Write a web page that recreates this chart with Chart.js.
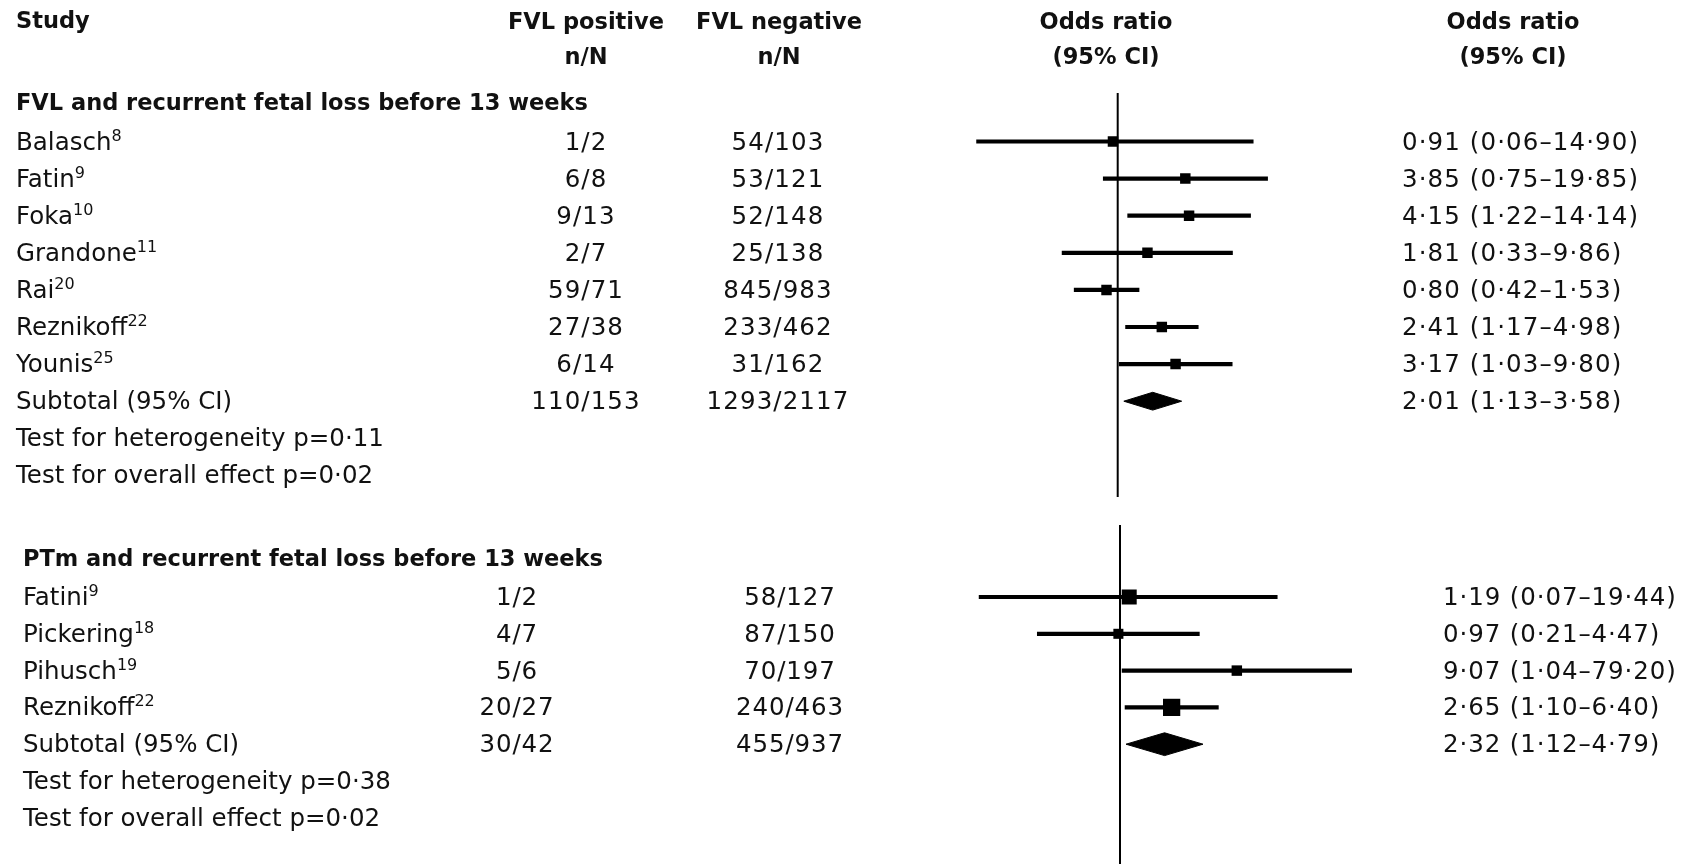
<!DOCTYPE html>
<html>
<head>
<meta charset="utf-8">
<script src="https://cdn.jsdelivr.net/npm/chart.js@4.4.1/dist/chart.umd.min.js"></script>
<style>
  html, body { margin: 0; padding: 0; background: #fff; }
  body { width: 1681px; height: 864px; position: relative; overflow: hidden;
         font-family: "DejaVu Sans", sans-serif; color: #111; }
  canvas { position: absolute; left: 0; }
  .t { position: absolute; white-space: nowrap; font-size: 24.5px; line-height: 28px; transform: translateY(-50%); }
  .b { font-weight: bold; font-size: 22.5px; }
  .c { transform: translate(-50%, -50%); text-align: center; }
  .n { letter-spacing: 1.1px; }
  .n2 { letter-spacing: 0.9px; }
  sup { font-size: 16px; vertical-align: 9px; line-height: 0; letter-spacing: 0; }
</style>
</head>
<body>
<canvas id="topPanel" width="1681" height="500" style="top:0"></canvas>
<canvas id="bottomPanel" width="1681" height="364" style="top:500px"></canvas>
<script>
// FVL and recurrent fetal loss before 13 weeks
const fvlStudies = ["Balasch", "Fatin", "Foka", "Grandone", "Rai", "Reznikoff", "Younis"];
const fvlRefs = [8, 9, 10, 11, 20, 22, 25];
const fvlPositive = ["1/2", "6/8", "9/13", "2/7", "59/71", "27/38", "6/14"];
const fvlNegative = ["54/103", "53/121", "52/148", "25/138", "845/983", "233/462", "31/162"];
const fvlOR = [0.91, 3.85, 4.15, 1.81, 0.80, 2.41, 3.17];
const fvlLow = [0.06, 0.75, 1.22, 0.33, 0.42, 1.17, 1.03];
const fvlHigh = [14.90, 19.85, 14.14, 9.86, 1.53, 4.98, 9.80];
const fvlTotal = [2.01, 1.13, 3.58];          // OR, low, high
const fvlTotalCounts = ["110/153", "1293/2117"];
const fvlTests = ["0·11", "0·02"];            // heterogeneity, overall effect

// PTm and recurrent fetal loss before 13 weeks
const ptmStudies = ["Fatini", "Pickering", "Pihusch", "Reznikoff"];
const ptmRefs = [9, 18, 19, 22];
const ptmPositive = ["1/2", "4/7", "5/6", "20/27"];
const ptmNegative = ["58/127", "87/150", "70/197", "240/463"];
const ptmOR = [1.19, 0.97, 9.07, 2.65];
const ptmLow = [0.07, 0.21, 1.04, 1.10];
const ptmHigh = [19.44, 4.47, 79.20, 6.40];
const ptmTotal = [2.32, 1.12, 4.79];
const ptmTotalCounts = ["30/42", "455/937"];
const ptmTests = ["0·38", "0·02"];

const W = 1681;

function fmt(v) { return v.toFixed(2).replace(".", "\u00b7"); }
function orText(or, lo, hi) { return fmt(or) + " (" + fmt(lo) + "\u2013" + fmt(hi) + ")"; }

function addText(html, x, y, cls) {
  const d = document.createElement("div");
  d.className = "t " + (cls || "");
  d.innerHTML = html;
  d.style.left = x + "px";
  d.style.top = y + "px";
  document.body.appendChild(d);
}

// panel: canvas, plot geometry, columns and data
function buildPanel(p) {
  const n = p.or.length;
  const areaH = p.canvasH - p.areaTop - p.areaBottom;
  const yMin = -(p.row0 - p.canvasTop - p.areaTop) / p.rowStep;
  const yMax = yMin + areaH / p.rowStep;
  const left = p.refX - 2 * p.pxPerDecade;
  const right = W - (left + 4 * p.pxPerDecade);

  const ci = p.or.map((v, i) => ({ x: [p.low[i], p.high[i]], y: i }));
  const pts = p.or.map((v, i) => ({ x: v, y: i }));
  const t = p.total;
  const diamond = [
    { x: t[1], y: n }, { x: t[0], y: n - p.diamondH }, { x: t[2], y: n },
    { x: t[0], y: n + p.diamondH }, { x: t[1], y: n }
  ];

  const chart = new Chart(document.getElementById(p.canvas), {
    type: "bar",
    data: {
      datasets: [
        {
          type: "bar", indexAxis: "y", data: ci,
          backgroundColor: "#000", borderWidth: 0, barThickness: 3.5
        },
        {
          type: "scatter", data: pts,
          pointStyle: "rect", pointRadius: p.boxRadius,
          pointBackgroundColor: "#000", pointBorderWidth: 0
        },
        {
          type: "line", data: diamond, fill: "shape",
          backgroundColor: "#000", borderColor: "#000", borderWidth: 1,
          pointRadius: 0, tension: 0
        },
        {
          type: "line", data: [{ x: 1, y: yMin }, { x: 1, y: yMax }],
          borderColor: "#000", borderWidth: 2, pointRadius: 0, fill: false
        }
      ]
    },
    options: {
      responsive: false,
      animation: false,
      events: [],
      layout: {
        autoPadding: false,
        padding: { left: left, right: right, top: p.areaTop, bottom: p.areaBottom }
      },
      plugins: { legend: { display: false }, tooltip: { enabled: false } },
      scales: {
        x: { type: "logarithmic", min: 0.01, max: 100, offset: false, display: false },
        y: { type: "linear", min: yMin, max: yMax, reverse: true, offset: false,
             beginAtZero: false, grace: 0, bounds: "data", display: false }
      }
    }
  });

  const ys = chart.scales.y;
  const rowY = r => p.canvasTop + ys.getPixelForValue(r);
  const nc = p.numCls;

  addText(p.title, p.nameX, rowY(-1) - 2, "b");
  p.studies.forEach((s, i) => {
    addText(s + "<sup>" + p.refs[i] + "</sup>", p.nameX, rowY(i));
    addText(p.pos[i], p.posX, rowY(i), "c " + nc);
    addText(p.neg[i], p.negX, rowY(i), "c " + nc);
    addText(orText(p.or[i], p.low[i], p.high[i]), p.orX, rowY(i), nc);
  });
  addText("Subtotal (95% CI)", p.nameX, rowY(n));
  addText(p.totalCounts[0], p.posX, rowY(n), "c " + nc);
  addText(p.totalCounts[1], p.negX, rowY(n), "c " + nc);
  addText(orText(t[0], t[1], t[2]), p.orX, rowY(n), nc);
  addText("Test for heterogeneity p=" + p.tests[0], p.nameX, rowY(n + 1));
  addText("Test for overall effect p=" + p.tests[1], p.nameX, rowY(n + 2));
  return chart;
}

// column headings
addText("Study", 16, 20, "b");
addText("FVL positive<br>n/N", 586, 39, "b c");
addText("FVL negative<br>n/N", 779, 39, "b c");
addText("Odds ratio<br>(95% CI)", 1106, 39, "b c");
addText("Odds ratio<br>(95% CI)", 1513, 39, "b c");
document.querySelectorAll(".b.c").forEach(d => d.style.lineHeight = "35px");

buildPanel({
  canvas: "topPanel", canvasTop: 0, canvasH: 500, areaTop: 93, areaBottom: 3,
  row0: 141.5, rowStep: 37.1, refX: 1117.7, pxPerDecade: 115.5,
  boxRadius: 7.4, diamondH: 0.24, numCls: "n",
  nameX: 16, posX: 586, negX: 778, orX: 1402,
  title: "FVL and recurrent fetal loss before 13 weeks",
  studies: fvlStudies, refs: fvlRefs, pos: fvlPositive, neg: fvlNegative,
  or: fvlOR, low: fvlLow, high: fvlHigh, total: fvlTotal,
  totalCounts: fvlTotalCounts, tests: fvlTests
});

buildPanel({
  canvas: "bottomPanel", canvasTop: 500, canvasH: 364, areaTop: 25, areaBottom: 0,
  row0: 597, rowStep: 36.8, refX: 1120, pxPerDecade: 122,
  boxRadius: [10.6, 7.1, 7.4, 12.2], diamondH: 0.31, numCls: "n2",
  nameX: 23, posX: 517, negX: 790, orX: 1443,
  title: "PTm and recurrent fetal loss before 13 weeks",
  studies: ptmStudies, refs: ptmRefs, pos: ptmPositive, neg: ptmNegative,
  or: ptmOR, low: ptmLow, high: ptmHigh, total: ptmTotal,
  totalCounts: ptmTotalCounts, tests: ptmTests
});
</script>
</body>
</html>
